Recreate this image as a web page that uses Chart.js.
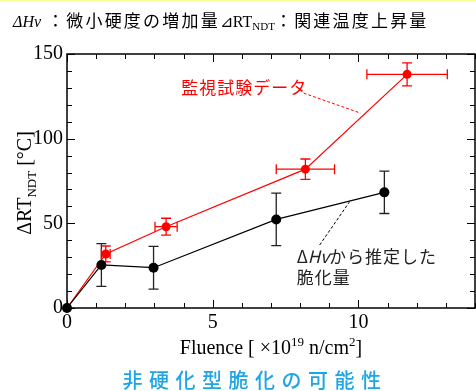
<!DOCTYPE html>
<html>
<head>
<meta charset="utf-8">
<script src="https://cdn.jsdelivr.net/npm/chart.js@4"></script>
<style>
  html, body { margin: 0; padding: 0; background: #fff; overflow: hidden; }
  #wrap { width: 480px; height: 391px; }
</style>
</head>
<body>
<div id="wrap"><canvas id="fluenceChart" width="480" height="391"></canvas></div>
<script>
// fluence (x10^19 n/cm2) vs transition temperature shift
const hvX = [0, 1.18, 2.97, 7.18, 10.89];
const hvY = [0, 25.4, 23.8, 52.3, 68.3];
const hvErr = [0, 12.6, 12.6, 15.5, 12.5];

const survX = [0, 1.33, 3.40, 8.18, 11.67];
const survY = [0, 31.9, 48, 82, 138];
const survYErr = [0, 4.7, 5, 6, 6.8];
const survXErr = [0, 0.15, 0.38, 1.0, 1.38];

const xTicks = [0, 5, 10];
const yTicks = [0, 50, 100, 150];
const xMinor = [0, 1, 2, 3, 4, 5, 6, 7, 8, 9, 10, 11, 12, 13, 14];
const yMinor = [0, 10, 20, 30, 40, 50, 60, 70, 80, 90, 100, 110, 120, 130, 140, 150];

const serif = '"Liberation Serif", "DejaVu Serif", serif';
const jp = '"Noto Sans CJK JP", "Noto Sans", sans-serif';

function drawParts(ctx, parts, x, y, align) {
  let w = 0;
  parts.forEach(p => {
    ctx.font = p[1];
    ctx.letterSpacing = (p[3] || 0) + 'px';
    w += ctx.measureText(p[0]).width;
  });
  let cx = align === 'center' ? x - w / 2 : x;
  ctx.textAlign = 'left';
  parts.forEach(p => {
    ctx.font = p[1];
    ctx.letterSpacing = (p[3] || 0) + 'px';
    ctx.fillText(p[0], cx, y + (p[2] || 0));
    cx += ctx.measureText(p[0]).width;
  });
  ctx.letterSpacing = '0px';
}

function errorBars(chart, xs, ys, xe, ye, color, cap) {
  const ctx = chart.ctx, sx = chart.scales.x, sy = chart.scales.y;
  ctx.save();
  ctx.strokeStyle = color;
  ctx.lineWidth = 1.3;
  xs.forEach((v, i) => {
    const px = sx.getPixelForValue(v), py = sy.getPixelForValue(ys[i]);
    if (ye && ye[i]) {
      const t = sy.getPixelForValue(ys[i] + ye[i]), b = sy.getPixelForValue(ys[i] - ye[i]);
      ctx.beginPath();
      ctx.moveTo(px, t); ctx.lineTo(px, b);
      ctx.moveTo(px - cap, t); ctx.lineTo(px + cap, t);
      ctx.moveTo(px - cap, b); ctx.lineTo(px + cap, b);
      ctx.stroke();
    }
    if (xe && xe[i]) {
      const l = sx.getPixelForValue(v - xe[i]), r = sx.getPixelForValue(v + xe[i]);
      ctx.beginPath();
      ctx.moveTo(l, py); ctx.lineTo(r, py);
      ctx.moveTo(l, py - cap); ctx.lineTo(l, py + cap);
      ctx.moveTo(r, py - cap); ctx.lineTo(r, py + cap);
      ctx.stroke();
    }
  });
  ctx.restore();
}

const framePlugin = {
  id: 'frame',
  beforeDraw(chart) {
    const ctx = chart.ctx;
    ctx.save();
    ctx.fillStyle = '#fff';
    ctx.fillRect(0, 0, chart.width, chart.height);
    ctx.fillStyle = '#ffff99';
    ctx.fillRect(0, 0, chart.width, 2);
    ctx.restore();
  },
  beforeDatasetsDraw(chart) {
    const ctx = chart.ctx, a = chart.chartArea, sx = chart.scales.x, sy = chart.scales.y;
    ctx.save();
    ctx.strokeStyle = '#000';
    ctx.lineWidth = 1.5;
    ctx.strokeRect(a.left, a.top, a.right - a.left, a.bottom - a.top);
    ctx.lineWidth = 1;
    ctx.beginPath();
    xMinor.forEach(v => {
      const px = Math.round(sx.getPixelForValue(v)) + 0.5;
      const len = xTicks.includes(v) ? 8 : 5;
      ctx.moveTo(px, a.bottom); ctx.lineTo(px, a.bottom - len);
      ctx.moveTo(px, a.top); ctx.lineTo(px, a.top + len);
    });
    yMinor.forEach(v => {
      const py = Math.round(sy.getPixelForValue(v)) + 0.5;
      const len = yTicks.includes(v) ? 8 : 5;
      ctx.moveTo(a.left, py); ctx.lineTo(a.left + len, py);
      ctx.moveTo(a.right, py); ctx.lineTo(a.right - len, py);
    });
    ctx.stroke();
    ctx.restore();

    errorBars(chart, hvX, hvY, null, hvErr, '#222', 5);
    errorBars(chart, survX, survY, survXErr, survYErr, '#ff0000', 5);
  },
  afterDraw(chart) {
    const ctx = chart.ctx, sx = chart.scales.x, sy = chart.scales.y;
    ctx.save();
    ctx.textBaseline = 'alphabetic';

    // header line
    ctx.fillStyle = '#000';
    drawParts(ctx, [
      ['ΔHv', 'italic 16px ' + serif],
      [' ：微小硬度の増加量', '17px ' + jp, 0, 2.2],
      ['⊿RT', '16px ' + serif],
      ['NDT', '11px ' + serif, 3],
      ['：関連温度上昇量', '17px ' + jp, 0, 2.2]
    ], 13, 27, 'left');

    // y axis title
    ctx.save();
    ctx.translate(31, 183);
    ctx.rotate(-Math.PI / 2);
    drawParts(ctx, [
      ['ΔRT', '20px ' + serif],
      ['NDT', '13px ' + serif, 5],
      [' [°C]', '20px ' + serif]
    ], 0, 0, 'center');
    ctx.restore();

    // x axis title
    drawParts(ctx, [
      ['Fluence [ ×10', '20px ' + serif],
      ['19', '13px ' + serif, -8],
      [' n/cm', '20px ' + serif],
      ['2', '13px ' + serif, -8],
      [']', '20px ' + serif]
    ], 271, 354, 'center');

    // annotations
    ctx.fillStyle = '#ff0000';
    ctx.textBaseline = 'middle';
    drawParts(ctx, [['監視試験データ', '17px ' + jp, 0, 1]], sx.getPixelForValue(3.92), sy.getPixelForValue(129.9), 'left');
    ctx.strokeStyle = '#ff0000';
    ctx.lineWidth = 1;
    ctx.setLineDash([3, 2]);
    ctx.beginPath();
    ctx.moveTo(sx.getPixelForValue(8.12), sy.getPixelForValue(126.9));
    ctx.lineTo(sx.getPixelForValue(10.07), sy.getPixelForValue(115.1));
    ctx.stroke();

    ctx.fillStyle = '#222';
    drawParts(ctx, [
      ['Δ', '17px ' + jp],
      ['Hv', 'italic 17px ' + jp],
      ['から推定した', '17px ' + jp, 0, 1]
    ], sx.getPixelForValue(7.88), sy.getPixelForValue(30.1), 'left');
    drawParts(ctx, [['脆化量', '17px ' + jp, 0, 1]], sx.getPixelForValue(7.88), sy.getPixelForValue(17.7), 'left');
    ctx.strokeStyle = '#000';
    ctx.beginPath();
    ctx.moveTo(sx.getPixelForValue(8.67), sy.getPixelForValue(37.2));
    ctx.lineTo(sx.getPixelForValue(9.69), sy.getPixelForValue(62.6));
    ctx.stroke();
    ctx.setLineDash([]);

    // caption
    ctx.fillStyle = '#1ea5e6';
    drawParts(ctx, [['非硬化型脆化の可能性', '500 20px ' + jp, 0, 6.5]], 255, 380, 'center');
    ctx.restore();
  }
};

const ctx = document.getElementById('fluenceChart').getContext('2d');
const fluenceChart = new Chart(ctx, {
  type: 'scatter',
  data: {
    datasets: [
      {
        label: 'ΔHvから推定した脆化量',
        data: hvX.map((x, i) => ({ x: x, y: hvY[i] })),
        showLine: true,
        borderColor: '#000',
        backgroundColor: '#000',
        borderWidth: 1.2,
        pointRadius: 5,
        pointBorderWidth: 0,
        clip: false
      },
      {
        label: '監視試験データ',
        data: survX.map((x, i) => ({ x: x, y: survY[i] })),
        showLine: true,
        borderColor: '#ff0000',
        backgroundColor: '#ff0000',
        borderWidth: 1.2,
        pointRadius: 4.5,
        pointBorderWidth: 0,
        clip: false
      }
    ]
  },
  options: {
    responsive: false,
    animation: false,
    layout: { padding: { left: 0, top: 54, right: 3, bottom: 0 } },
    plugins: {
      legend: { display: false },
      tooltip: { enabled: false }
    },
    scales: {
      x: {
        type: 'linear',
        min: 0,
        max: 14,
        grid: { display: false, drawTicks: false },
        border: { display: false },
        ticks: { font: { family: serif, size: 20 }, color: '#000', padding: 3, maxRotation: 0 },
        afterBuildTicks: s => { s.ticks = xTicks.map(v => ({ value: v })); },
        afterFit: s => { s.height = 83; }
      },
      y: {
        type: 'linear',
        min: 0,
        max: 150,
        grid: { display: false, drawTicks: false },
        border: { display: false },
        ticks: { font: { family: serif, size: 20 }, color: '#000', padding: 4 },
        afterBuildTicks: s => { s.ticks = yTicks.map(v => ({ value: v })); },
        afterFit: s => { s.width = 67; }
      }
    }
  },
  plugins: [framePlugin]
});
</script>
</body>
</html>
